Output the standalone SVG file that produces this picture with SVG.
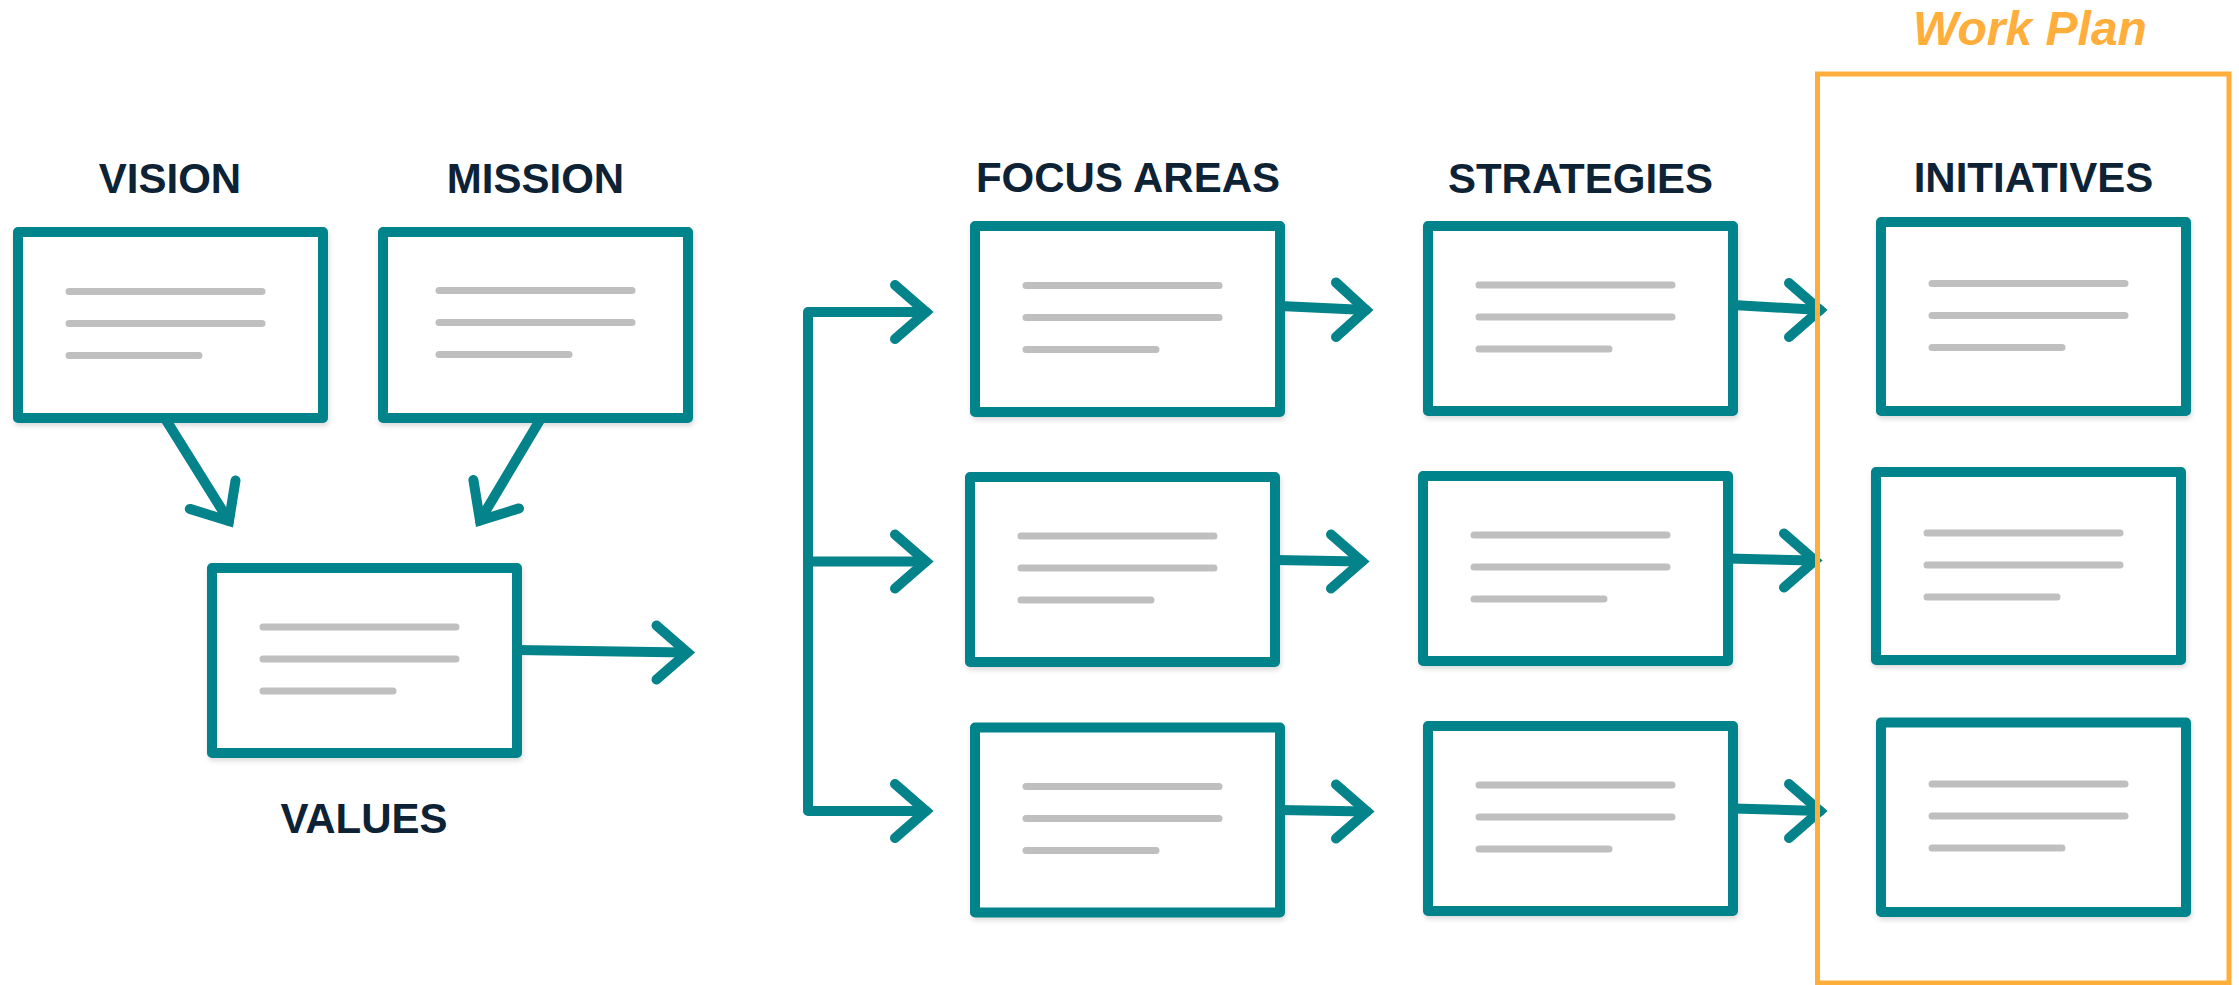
<svg xmlns="http://www.w3.org/2000/svg" width="2239" height="985" viewBox="0 0 2239 985">
<defs>
<filter id="sh" x="-10%" y="-10%" width="120%" height="125%">
<feDropShadow dx="1" dy="3" stdDeviation="2.5" flood-color="#000" flood-opacity="0.14"/>
</filter>
<style>
.box{fill:#fff;stroke:#04838A;stroke-width:10;stroke-linejoin:round}
.ln{stroke:#BFBFBF;stroke-width:7;stroke-linecap:round;fill:none}
.ttl{font-family:"Liberation Sans",Arial,sans-serif;font-weight:bold;font-size:42px;fill:#0E2235;text-anchor:middle}
.con{stroke:#04838A;stroke-width:10;fill:none;stroke-linecap:round;stroke-linejoin:round}
.hd{stroke:#04838A;stroke-width:10;fill:none;stroke-linecap:round;stroke-linejoin:miter;stroke-miterlimit:4}
</style>
</defs>
<rect width="2239" height="985" fill="#fff"/>

<g id="vision">
<text class="ttl" x="170" y="193">VISION</text>
<rect class="box" x="18" y="232" width="305" height="186" filter="url(#sh)"/>
<path class="ln" d="M69 291.5H262M69 323.5H262M69 355.5H199"/>
</g>
<g id="mission">
<text class="ttl" x="535.5" y="193">MISSION</text>
<rect class="box" x="383" y="232" width="305" height="186" filter="url(#sh)"/>
<path class="ln" d="M439 290.5H632M439 322.5H632M439 354.5H569"/>
</g>
<g id="values">
<rect class="box" x="212" y="568" width="305" height="185" filter="url(#sh)"/>
<path class="ln" d="M263 627H456M263 659H456M263 691H393"/>
<text class="ttl" x="364" y="833">VALUES</text>
</g>

<g id="focus-areas-title"><text class="ttl" x="1128" y="192">FOCUS AREAS</text></g>
<g id="focus1">
<rect class="box" x="975" y="226" width="305" height="186" filter="url(#sh)"/>
<path class="ln" d="M1026 285.5H1219M1026 317.5H1219M1026 349.5H1156"/>
</g>
<g id="focus2">
<rect class="box" x="970" y="477" width="305" height="185" filter="url(#sh)"/>
<path class="ln" d="M1021 536H1214M1021 568H1214M1021 600H1151"/>
</g>
<g id="focus3">
<rect class="box" x="975" y="727.5" width="305" height="185" filter="url(#sh)"/>
<path class="ln" d="M1026 786.5H1219M1026 818.5H1219M1026 850.5H1156"/>
</g>

<g id="strategies-title"><text class="ttl" x="1580.5" y="193">STRATEGIES</text></g>
<g id="strat1">
<rect class="box" x="1428" y="226" width="305" height="185" filter="url(#sh)"/>
<path class="ln" d="M1479 285H1672M1479 317H1672M1479 349H1609"/>
</g>
<g id="strat2">
<rect class="box" x="1423" y="476" width="305" height="185" filter="url(#sh)"/>
<path class="ln" d="M1474 535H1667M1474 567H1667M1474 599H1604"/>
</g>
<g id="strat3">
<rect class="box" x="1428" y="726" width="305" height="185" filter="url(#sh)"/>
<path class="ln" d="M1479 785H1672M1479 817H1672M1479 849H1609"/>
</g>

<g id="initiatives-title"><text class="ttl" x="2033.5" y="192">INITIATIVES</text></g>
<g id="init1">
<rect class="box" x="1881" y="222" width="305" height="189" filter="url(#sh)"/>
<path class="ln" d="M1932 283.5H2125M1932 315.5H2125M1932 347.5H2062"/>
</g>
<g id="init2">
<rect class="box" x="1876" y="472" width="305" height="188" filter="url(#sh)"/>
<path class="ln" d="M1927 533H2120M1927 565H2120M1927 597H2057"/>
</g>
<g id="init3">
<rect class="box" x="1881" y="722.5" width="305" height="189.5" filter="url(#sh)"/>
<path class="ln" d="M1932 784H2125M1932 816H2125M1932 848H2062"/>
</g>

<g id="connectors">
<path class="con" d="M166 420L229 521"/>
<path class="hd" d="M235.5 480.5L229 521L189.8 508.9"/>
<path class="con" d="M540 420L480 520.5"/>
<path class="hd" d="M473.4 480L480 520.5L519 508.4"/>
<path class="con" d="M517 650L687 652.5"/>
<path class="hd" d="M656.5 625.5L687.5 652.5L656.5 679.5"/>
<path class="con" d="M926 312H808V811H926M808 561.5H926"/>
<path class="hd" d="M895 285L926 312L895 339"/>
<path class="hd" d="M895 534.5L926 561.5L895 588.5"/>
<path class="hd" d="M895 784L926 811L895 838"/>
<path class="con" d="M1280 306L1366 310"/>
<path class="hd" d="M1336 282.5L1366 310L1336 337"/>
<path class="con" d="M1275 560L1362 561.5"/>
<path class="hd" d="M1331 534.5L1362 561.5L1331 588.5"/>
<path class="con" d="M1280 810L1367 811.5"/>
<path class="hd" d="M1336 784.5L1367 811.5L1336 838.5"/>
<path class="con" d="M1733 305L1820 310"/>
<path class="hd" d="M1789 283L1820 310L1789 337"/>
<path class="con" d="M1728 558.5L1815 560.5"/>
<path class="hd" d="M1784 533.5L1815 560.5L1784 587.5"/>
<path class="con" d="M1733 808.5L1820 811"/>
<path class="hd" d="M1789 784L1820 811L1789 838"/>
</g>

<g id="work-plan">
<rect x="1817.5" y="74" width="411.5" height="909" fill="none" stroke="#FFAE3B" stroke-width="5"/>
<text x="2030" y="45" font-family="'Liberation Sans',Arial,sans-serif" font-weight="bold" font-style="italic" font-size="48" fill="#FFAE3B" text-anchor="middle">Work Plan</text>
</g>
</svg>
